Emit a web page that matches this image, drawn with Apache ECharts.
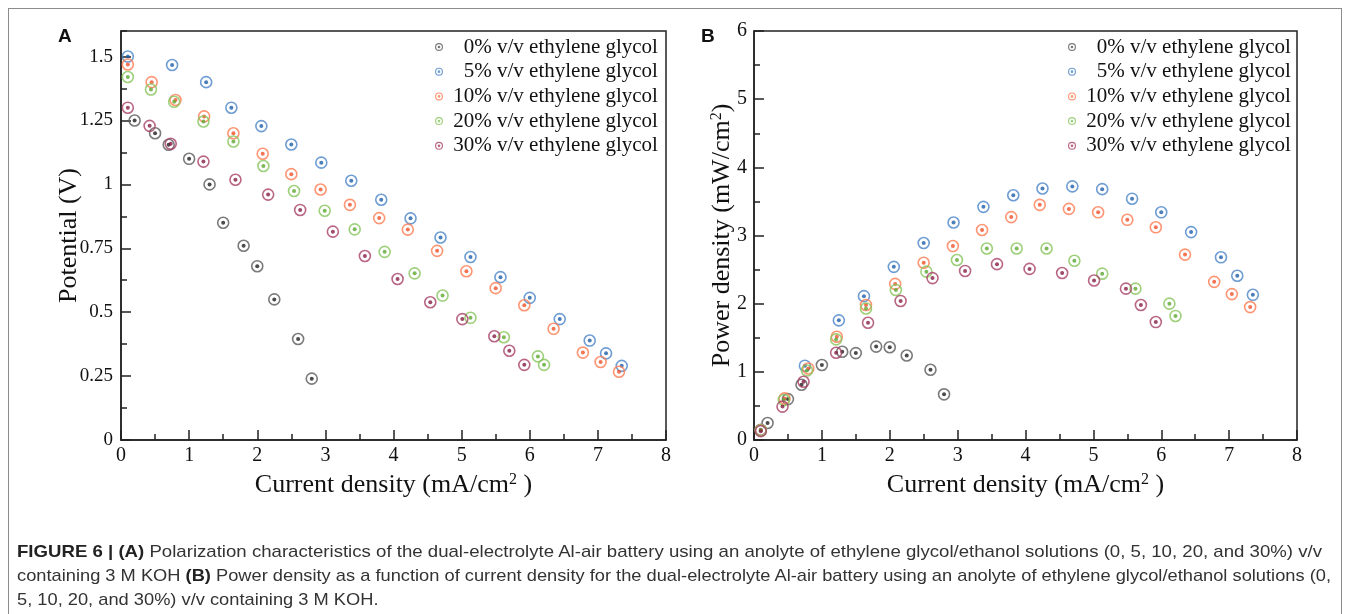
<!DOCTYPE html>
<html>
<head>
<meta charset="utf-8">
<script src="https://cdn.jsdelivr.net/npm/echarts@6/dist/echarts.min.js"></script>
<style>
  html, body { margin: 0; padding: 0; background: #fff; }
  #wrap { position: relative; width: 1349px; height: 614px; overflow: hidden; }
  #frame { position: absolute; left: 8px; top: 8px; width: 1334px; height: 640px; border: 1px solid #8c8c8c; box-sizing: border-box; }
  #chart { position: absolute; left: 0; top: 0; width: 1349px; height: 614px; }
  #caption { position: absolute; left: 17px; top: 540px; font-family: "Liberation Sans Narrow", "Liberation Sans", Arial, sans-serif; font-size: 17px; line-height: 24px; color: #333; }
  #caption .line { display: block; white-space: nowrap; transform-origin: 0 0; width: max-content; }
  #caption b { color: #222; }
</style>
</head>
<body>
<div id="wrap">
  <div id="frame"></div>
  <div id="chart"></div>
  <div id="caption">
    <span class="line"><b>FIGURE 6 | (A)</b> Polarization characteristics of the dual-electrolyte Al-air battery using an anolyte of ethylene glycol/ethanol solutions (0, 5, 10, 20, and 30%) v/v</span>
    <span class="line">containing 3 M KOH <b>(B)</b> Power density as a function of current density for the dual-electrolyte Al-air battery using an anolyte of ethylene glycol/ethanol solutions (0,</span>
    <span class="line">5, 10, 20, and 30%) v/v containing 3 M KOH.</span>
  </div>
</div>
<script>
// current density (mA/cm2), potential (V), power density (mW/cm2)
const current0 = [0.2, 0.5, 0.7, 1.0, 1.3, 1.5, 1.8, 2.0, 2.25, 2.6, 2.8]
const potential0 = [1.25, 1.2, 1.155, 1.1, 1.0, 0.85, 0.76, 0.68, 0.55, 0.395, 0.24]
const power0 = [0.25, 0.6, 0.81, 1.1, 1.295, 1.275, 1.37, 1.36, 1.24, 1.03, 0.67]

const current5 = [0.1, 0.75, 1.25, 1.62, 2.06, 2.5, 2.94, 3.38, 3.82, 4.25, 4.69, 5.13, 5.57, 6.0, 6.44, 6.88, 7.12, 7.35]
const potential5 = [1.5, 1.467, 1.4, 1.3, 1.228, 1.156, 1.085, 1.014, 0.94, 0.867, 0.792, 0.716, 0.637, 0.556, 0.473, 0.389, 0.339, 0.29]
const power5 = [0.15, 1.09, 1.755, 2.11, 2.54, 2.89, 3.19, 3.42, 3.59, 3.69, 3.72, 3.68, 3.54, 3.34, 3.05, 2.68, 2.41, 2.13]

const current10 = [0.1, 0.45, 0.8, 1.22, 1.65, 2.08, 2.5, 2.93, 3.36, 3.79, 4.21, 4.64, 5.07, 5.5, 5.92, 6.35, 6.78, 7.04, 7.31]
const potential10 = [1.469, 1.4, 1.33, 1.266, 1.2, 1.12, 1.04, 0.98, 0.92, 0.868, 0.823, 0.74, 0.66, 0.594, 0.527, 0.435, 0.342, 0.305, 0.267]
const power10 = [0.147, 0.61, 1.05, 1.515, 1.98, 2.29, 2.6, 2.845, 3.08, 3.27, 3.45, 3.39, 3.34, 3.23, 3.12, 2.72, 2.32, 2.14, 1.95]

const current20 = [0.1, 0.44, 0.78, 1.21, 1.65, 2.09, 2.54, 2.99, 3.43, 3.87, 4.31, 4.72, 5.13, 5.62, 6.12, 6.21]
const potential20 = [1.42, 1.371, 1.323, 1.246, 1.168, 1.072, 0.974, 0.897, 0.824, 0.736, 0.652, 0.565, 0.478, 0.402, 0.327, 0.294]
const power20 = [0.142, 0.587, 1.02, 1.476, 1.93, 2.2, 2.47, 2.64, 2.81, 2.81, 2.81, 2.63, 2.44, 2.22, 2.0, 1.82]

const current30 = [0.1, 0.42, 0.73, 1.21, 1.68, 2.16, 2.63, 3.11, 3.58, 4.06, 4.54, 5.01, 5.48, 5.7, 5.92]
const potential30 = [1.3, 1.229, 1.159, 1.089, 1.018, 0.96, 0.9, 0.815, 0.72, 0.63, 0.539, 0.473, 0.406, 0.349, 0.294]
const power30 = [0.13, 0.49, 0.855, 1.28, 1.72, 2.04, 2.375, 2.48, 2.58, 2.51, 2.45, 2.34, 2.22, 1.98, 1.73]

const seriesNames = [
  '0% v/v ethylene glycol',
  '5% v/v ethylene glycol',
  '10% v/v ethylene glycol',
  '20% v/v ethylene glycol',
  '30% v/v ethylene glycol',
]
const currents = [current0, current5, current10, current20, current30]
const potentials = [potential0, potential5, potential10, potential20, potential30]
const powers = [power0, power5, power10, power20, power30]

const ringColors = ['#5a5a5a', '#4a85c8', '#ff7a50', '#86c45a', '#a84066']
const dotColors = ['#1e1e1e', '#1f5fa8', '#f0502a', '#5da832', '#861d44']

const xTicks = [0, 8, 1]
const potentialTicks = [0, 1.6, 0.25]
const powerTicks = [0, 6, 1]

const SERIF = 'Liberation Serif'
const AXIS = '#222'
const RING_ICON = 'path://M1,10A9,9 0 1,1 19,10A9,9 0 1,1 1,10ZM3.6,10A6.4,6.4 0 1,0 16.4,10A6.4,6.4 0 1,0 3.6,10ZM7,10A3,3 0 1,1 13,10A3,3 0 1,1 7,10Z'

const chart = echarts.init(document.getElementById('chart'), null, { renderer: 'canvas' })

const nameStyle = {
  fontFamily: SERIF,
  fontSize: 26,
  color: '#111',
  rich: {
    a: { fontFamily: SERIF, fontSize: 26, color: '#111' },
    s: { fontFamily: SERIF, fontSize: 16, color: '#111', verticalAlign: 'top' },
  },
}

function xAxisFor(gridIndex) {
  return {
    gridIndex,
    type: 'value',
    min: xTicks[0],
    max: xTicks[1],
    interval: xTicks[2],
    name: '{a|Current density (mA/cm}{s|2}{a| )}',
    nameLocation: 'middle',
    nameGap: 32,
    nameMoveOverlap: false,
    nameTextStyle: nameStyle,
    axisLine: { show: true, onZero: false, lineStyle: { color: AXIS, width: 1.5 } },
    axisTick: { show: true, inside: true, length: 10, lineStyle: { color: AXIS, width: 1.5 } },
    minorTick: { show: true, splitNumber: 2, length: 6, lineStyle: { color: AXIS, width: 1.5 } },
    axisLabel: { fontFamily: SERIF, fontSize: 20, color: '#111', margin: 6 },
    splitLine: { show: false },
  }
}

// right-align the percentages with a figure space, one space after the icon
const legendFormatter = (name) => {
  const pct = name.slice(0, name.indexOf(' '))
  return ' ' + (pct.length < 3 ? '\u2007' : '') + name
}

function legendFor(left, seriesPrefix) {
  return {
    orient: 'vertical',
    left,
    top: 36.5,
    padding: 0,
    itemGap: 3.7,
    itemWidth: 8,
    itemHeight: 8,
    selectedMode: false,
    data: seriesNames.map((n, i) => ({
      name: seriesPrefix + n,
      icon: RING_ICON,
      itemStyle: { color: ringColors[i], borderWidth: 0 },
    })),
    formatter: (name) => legendFormatter(name.slice(seriesPrefix.length)),
    textStyle: { fontFamily: SERIF, fontSize: 21, color: '#111', lineHeight: 21 },
  }
}

const series = []
function addPanel(prefix, xAxisIndex, yAxisIndex, yValues) {
  seriesNames.forEach((n, i) => {
    const data = currents[i].map((x, k) => [x, yValues[i][k]])
    series.push({
      name: prefix + n,
      type: 'scatter',
      xAxisIndex,
      yAxisIndex,
      data,
      symbol: 'circle',
      symbolSize: 11,
      silent: true,
      itemStyle: { color: 'rgba(255,255,255,0)', borderColor: ringColors[i], borderWidth: 1.6 },
    })
    series.push({
      name: prefix + n + ' dot',
      type: 'scatter',
      xAxisIndex,
      yAxisIndex,
      data,
      symbol: 'circle',
      symbolSize: 4,
      silent: true,
      itemStyle: { color: dotColors[i] },
    })
  })
}
addPanel('A ', 0, 0, potentials)
addPanel('B ', 1, 2, powers)

const option = {
  animation: false,
  grid: [
    { left: 121, top: 31, width: 545, height: 409, show: true, borderColor: AXIS, borderWidth: 1.5, containLabel: false },
    { left: 754, top: 31, width: 543, height: 409, show: true, borderColor: AXIS, borderWidth: 1.5, containLabel: false },
  ],
  xAxis: [xAxisFor(0), xAxisFor(1)],
  yAxis: [
    {
      gridIndex: 0,
      type: 'value',
      position: 'left',
      min: potentialTicks[0],
      max: potentialTicks[1],
      interval: potentialTicks[2],
      name: 'Potential (V)',
      nameLocation: 'middle',
      nameGap: 39,
      nameMoveOverlap: false,
      nameTextStyle: nameStyle,
      axisLine: { show: true, onZero: false, lineStyle: { color: AXIS, width: 1.5 } },
      axisTick: { show: true, inside: true, length: 10, lineStyle: { color: AXIS, width: 1.5 } },
      axisLabel: { fontFamily: SERIF, fontSize: 19, color: '#111', margin: 8, showMaxLabel: false },
      splitLine: { show: false },
    },
    {
      // minor ticks for the potential axis
      gridIndex: 0,
      type: 'value',
      position: 'left',
      offset: 0,
      min: potentialTicks[0],
      max: potentialTicks[1],
      interval: potentialTicks[2] / 2,
      axisLine: { show: false },
      axisTick: { show: true, inside: true, length: 6, lineStyle: { color: AXIS, width: 1.5 } },
      axisLabel: { show: false },
      splitLine: { show: false },
    },
    {
      gridIndex: 1,
      type: 'value',
      position: 'left',
      min: powerTicks[0],
      max: powerTicks[1],
      interval: powerTicks[2],
      name: '{a|Power density (mW/cm}{s|2}{a|)}',
      nameLocation: 'middle',
      nameGap: 19,
      nameMoveOverlap: false,
      nameTextStyle: nameStyle,
      axisLine: { show: true, onZero: false, lineStyle: { color: AXIS, width: 1.5 } },
      axisTick: { show: true, inside: true, length: 10, lineStyle: { color: AXIS, width: 1.5 } },
      minorTick: { show: true, splitNumber: 2, length: 6, lineStyle: { color: AXIS, width: 1.5 } },
      axisLabel: { fontFamily: SERIF, fontSize: 20, color: '#111', margin: 7 },
      splitLine: { show: false },
    },
  ],
  legend: [legendFor(435, 'A '), legendFor(1068, 'B ')],
  graphic: [
    { type: 'text', left: 58, top: 27, style: { text: 'A', font: 'bold 19px "Liberation Sans"', fill: '#111' } },
    { type: 'text', left: 701, top: 27, style: { text: 'B', font: 'bold 19px "Liberation Sans"', fill: '#111' } },
  ],
  series,
}
chart.setOption(option)

// squeeze caption lines to the widths of the printed caption
const lines = document.querySelectorAll('#caption .line')
const widths = [1305, 1314]
let k = 1
lines.forEach((el, i) => {
  if (widths[i]) k = widths[i] / el.getBoundingClientRect().width
  el.style.transform = 'scaleX(' + k + ')'
})
</script>
</body>
</html>
